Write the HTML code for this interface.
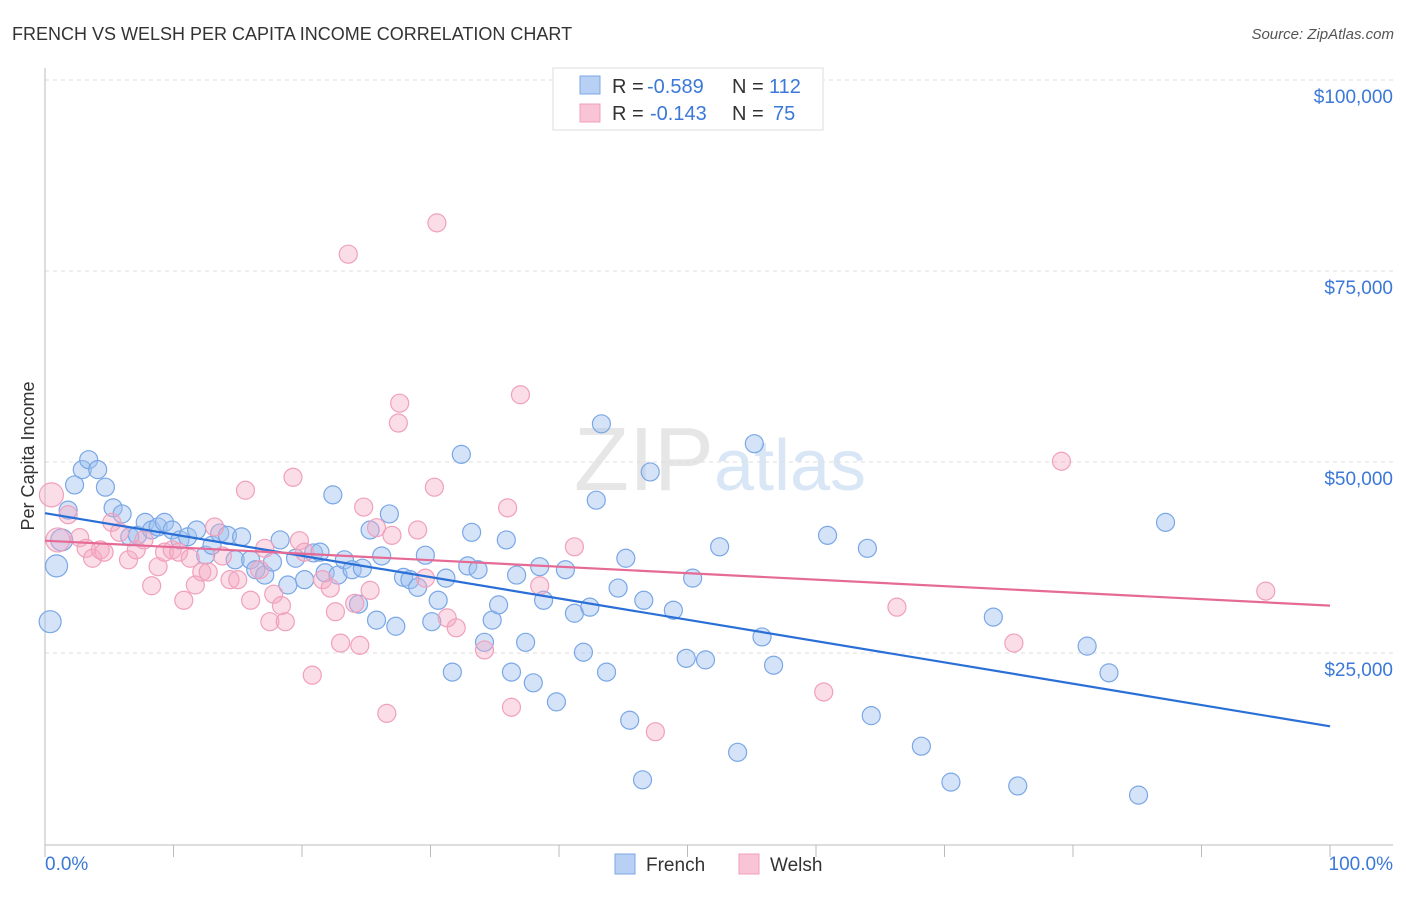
<!DOCTYPE html>
<html><head><meta charset="utf-8"><style>
body{margin:0;background:#fff;font-family:"Liberation Sans",sans-serif}
svg text{font-family:"Liberation Sans",sans-serif}
</style></head><body>
<svg id="chart" width="1406" height="892" xmlns="http://www.w3.org/2000/svg">
<text x="12" y="40" font-size="18" fill="#333">FRENCH VS WELSH PER CAPITA INCOME CORRELATION CHART</text>
<text x="1394" y="39" font-size="15" fill="#555" font-style="italic" text-anchor="end">Source: ZipAtlas.com</text>
<text x="720" y="490" font-size="90" text-anchor="middle" fill="#e6e6e6" font-family="Liberation Serif">ZIP<tspan fill="#d8e6f6" font-family="Liberation Sans" font-size="72">atlas</tspan></text>
<g id="grid"></g>
<g id="axes"></g>
<g id="marks"></g>
<g id="trends"></g>
<text transform="translate(34,456) rotate(-90)" font-size="18" fill="#333" text-anchor="middle">Per Capita Income</text>
<g>
<rect x="553" y="68" width="270" height="62" fill="#fff" stroke="#ddd"/>
<rect x="580" y="76" width="20" height="18" fill="#b8d0f4" stroke="#7aa7e6"/>
<rect x="580" y="104" width="20" height="18" fill="#f9c4d5" stroke="#f0a0bc"/>
<text x="612" y="93" font-size="20" fill="#333">R =</text>
<text x="647" y="93" font-size="20" fill="#3b78d8">-0.589</text>
<text x="732" y="93" font-size="20" fill="#333">N =</text>
<text x="769" y="93" font-size="20" fill="#3b78d8">112</text>
<text x="612" y="120" font-size="20" fill="#333">R =</text>
<text x="650" y="120" font-size="20" fill="#3b78d8">-0.143</text>
<text x="732" y="120" font-size="20" fill="#333">N =</text>
<text x="773" y="120" font-size="20" fill="#3b78d8">75</text>
</g>
<g>
<rect x="615" y="854" width="20" height="20" fill="#b8d0f4" stroke="#7aa7e6"/>
<text x="646" y="871" font-size="19" fill="#333">French</text>
<rect x="739" y="854" width="20" height="20" fill="#f9c4d5" stroke="#f0a0bc"/>
<text x="770" y="871" font-size="19" fill="#333">Welsh</text>
</g>
</svg>
<script>
const yTicks=[25000,50000,75000,100000];
const yTickLabels=["$25,000","$50,000","$75,000","$100,000"];
const xTickLabels=["0.0%","100.0%"];
const frenchX=[0.4,0.9,1.3,1.8,2.3,2.9,3.4,4.1,4.7,5.3,6.0,6.6,7.2,7.8,8.3,8.8,9.3,9.9,10.5,11.1,11.8,12.5,13.0,13.6,14.2,14.8,15.3,16.0,16.4,17.1,17.7,18.3,18.9,19.5,20.2,20.9,21.4,21.8,22.4,22.8,23.3,23.9,24.4,24.7,25.3,25.8,26.2,26.8,27.3,27.9,28.4,29.0,29.6,30.1,30.6,31.2,31.7,32.4,32.9,33.2,33.7,34.2,34.8,35.3,35.9,36.3,36.7,37.4,38.0,38.5,38.8,39.8,40.5,41.2,41.9,42.4,42.9,43.3,43.7,45.2,45.5,44.6,46.5,46.6,47.1,48.9,49.9,50.4,51.4,52.5,53.9,55.2,55.8,56.7,60.9,64.0,64.3,68.2,70.5,73.8,75.7,81.1,82.8,85.1,87.2];
const frenchY=[29.1,36.4,39.8,43.7,47.0,49.0,50.3,49.0,46.7,44.0,43.2,40.2,40.4,42.1,41.1,41.5,42.1,41.1,39.8,40.2,41.1,37.8,39.1,40.7,40.4,37.2,40.2,37.2,35.9,35.2,36.9,39.8,33.9,37.4,34.6,38.1,38.2,35.5,45.7,35.2,37.2,35.9,31.4,36.1,41.1,29.3,37.7,43.2,28.5,34.9,34.6,33.6,37.8,29.1,31.9,34.8,22.5,51.0,36.4,40.8,35.9,26.4,29.3,31.3,39.8,22.5,35.2,26.4,21.1,36.3,31.9,18.6,35.9,30.2,25.1,31.0,45.0,55.0,22.5,37.4,16.2,33.5,8.4,31.9,48.7,30.6,24.3,34.8,24.1,38.9,12.0,52.4,27.1,23.4,40.4,38.7,16.8,12.8,8.1,29.7,7.6,25.9,22.4,6.4,42.1];
const welshX=[0.5,1.0,1.8,2.7,3.2,3.7,4.3,4.6,5.2,5.8,6.5,7.1,7.7,8.3,8.8,9.3,9.9,10.4,10.8,11.3,11.7,12.2,12.7,13.2,13.8,14.4,15.0,15.6,16.0,16.7,17.1,17.5,17.8,18.4,18.7,19.3,19.8,20.2,20.8,21.6,22.2,22.6,23.0,23.6,24.1,24.5,24.8,25.3,25.8,26.6,27.0,27.5,27.6,29.0,29.6,30.3,30.5,31.3,32.0,34.2,36.0,36.3,37.0,38.5,41.2,47.5,60.6,66.3,75.4,79.1,95.0];
const welshY=[45.7,39.8,43.1,40.1,38.7,37.4,38.5,38.2,42.1,40.8,37.2,38.5,39.8,33.8,36.3,38.2,38.5,38.2,31.9,37.4,33.9,35.6,35.6,41.5,37.7,34.6,34.6,46.3,31.9,35.9,38.7,29.1,32.7,31.2,29.1,48.0,39.7,38.2,22.1,34.6,33.5,30.4,26.3,77.2,31.5,26.0,44.1,33.2,41.4,17.1,40.4,55.1,57.7,41.1,34.8,46.7,81.3,29.6,28.3,25.4,44.0,17.9,58.8,33.8,38.9,14.7,19.9,31.0,26.3,50.1,33.1];
const frenchTrend=[43.3,15.4];
const welshTrend=[39.7,31.2];
const NS="http://www.w3.org/2000/svg";
const X0=45,X1=1330,Y0=844,YT=80;
function xs(p){return X0+(X1-X0)*p/100}
function ys(v){return Y0-(Y0-YT)*v/100000}
function mk(tag,attrs,parent){const e=document.createElementNS(NS,tag);for(const k in attrs)e.setAttribute(k,attrs[k]);parent.appendChild(e);return e}
const grid=document.getElementById('grid'),axes=document.getElementById('axes'),marks=document.getElementById('marks'),trends=document.getElementById('trends');
yTicks.forEach((t,i)=>{
 const l=mk('line',{x1:45,x2:1393,y1:ys(t),y2:ys(t),stroke:'#ddd','stroke-dasharray':'4,4'},grid);
 
 
 const tx=mk('text',{x:1393,y:ys(t)+23,'font-size':19,fill:'#3b78d8','text-anchor':'end'},axes);
 tx.textContent=yTickLabels[i];
 
 
});
const ax=mk('line',{x1:45,x2:45,y1:68,y2:845,stroke:'#bbb'},axes);


const bx=mk('line',{x1:45,x2:1393,y1:845,y2:845,stroke:'#bbb'},axes);


for(let i=0;i<=10;i++){
 const t=mk('line',{x1:xs(i*10),x2:xs(i*10),y1:845,y2:857,stroke:'#bbb'},axes);
 
 
}
const xl0=mk('text',{x:45,y:870,'font-size':19,fill:'#3b78d8'},axes);xl0.textContent=xTickLabels[0];


const xl1=mk('text',{x:1393,y:870,'font-size':19,fill:'#3b78d8','text-anchor':'end'},axes);xl1.textContent=xTickLabels[1];


function pts(X,Y,fill,stroke,name){X.forEach((x,i)=>{
 const r=i<2&&name==='welsh-point'?12:(x<1.5?11:9);
 const c=mk('circle',{cx:xs(x),cy:ys(Y[i]*1000),r:r,fill:fill,stroke:stroke,'stroke-width':1.2},marks);
 
 
});}
pts(frenchX,frenchY,'rgba(160,192,240,0.45)','#7aa7e6','french-point');
pts(welshX,welshY,'rgba(245,170,195,0.4)','#f0a0bc','welsh-point');
const t1=mk('line',{x1:xs(0),x2:xs(100),y1:ys(frenchTrend[0]*1000),y2:ys(frenchTrend[1]*1000),stroke:'#2a6fd6','stroke-width':2.2},trends);


const t2=mk('line',{x1:xs(0),x2:xs(100),y1:ys(welshTrend[0]*1000),y2:ys(welshTrend[1]*1000),stroke:'#e56a95','stroke-width':2.2},trends);


</script>
</body></html>
